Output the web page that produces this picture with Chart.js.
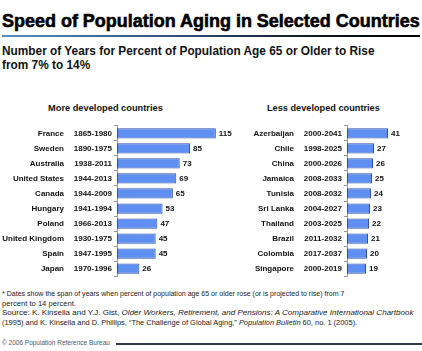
<!DOCTYPE html>
<html><head><meta charset="utf-8">
<script src="https://cdn.jsdelivr.net/npm/chart.js@4/dist/chart.umd.min.js"></script>
<style>
html,body{margin:0;padding:0;background:#fff;}
body{width:422px;height:351px;position:relative;overflow:hidden;font-family:"Liberation Sans",Arial,sans-serif;color:#000;}
.t{position:absolute;white-space:nowrap;line-height:1;}
#title{left:2px;top:12px;font-weight:bold;font-size:17px;-webkit-text-stroke:0.6px #000;}
#bar{position:absolute;left:2px;top:35px;width:418px;height:2px;background:linear-gradient(to right,#5a8cc4 0%,#2c4a72 45%,#101820 75%,#000 100%);}
#sub1{left:2px;top:46px;font-weight:bold;font-size:11px;color:#111;}
#sub2{left:2px;top:60px;font-weight:bold;font-size:11px;color:#111;}
#h1{left:48px;top:104px;font-weight:bold;font-size:8.5px;color:#111;}
#h2{left:267px;top:104px;font-weight:bold;font-size:8.5px;color:#111;}
.fn{left:2px;font-size:7.6px;color:#222;}
#cp{left:2px;top:340px;font-size:6px;color:#4a5870;}
#cpl{position:absolute;left:116px;top:343px;width:306px;height:1.5px;background:#2e3c52;}
canvas{position:absolute;}
#c1wrap{position:absolute;left:0;top:117px;width:240px;height:168px;}
#c2wrap{position:absolute;left:210px;top:117px;width:212px;height:168px;}
</style></head>
<body>
<div class="t" id="title" data-w="418">Speed of Population Aging in Selected Countries</div>
<div id="bar"></div>
<div class="t" id="sub1" data-w="373">Number of Years for Percent of Population Age 65 or Older to Rise</div>
<div class="t" id="sub2">from 7% to 14%</div>
<div class="t" id="h1" data-w="115">More developed countries</div>
<div class="t" id="h2" data-w="113">Less developed countries</div>
<div id="c1wrap"><canvas id="c1" width="240" height="168"></canvas></div>
<div id="c2wrap"><canvas id="c2" width="212" height="168"></canvas></div>
<div class="t fn" style="top:290px" data-w="343">* Dates show the span of years when percent of population age 65 or older rose (or is projected to rise) from 7</div>
<div class="t fn" style="top:299.5px">percent to 14 percent.</div>
<div class="t fn" style="top:309px" data-w="412">Source: K. Kinsella and Y.J. Gist, <i>Older Workers, Retirement, and Pensions: A Comparative International Chartbook</i></div>
<div class="t fn" style="top:318.5px" data-w="355">(1995) and K. Kinsella and D. Phillips, “The Challenge of Global Aging,” <i>Population Bulletin</i> 60, no. 1 (2005).</div>
<div class="t" id="cp" data-w="108">© 2006 Population Reference Bureau</div>
<div id="cpl"></div>
<script>
// fit text lines to measured widths of the reference
document.querySelectorAll('[data-w]').forEach(function(el){
  var target=parseFloat(el.getAttribute('data-w'));
  var fs=parseFloat(getComputedStyle(el).fontSize);
  var w=el.getBoundingClientRect().width;
  el.style.fontSize=(fs*target/w)+'px';
});
document.getElementById('sub2').style.fontSize=document.getElementById('sub1').style.fontSize;

// ---- data ----
const moreCountries=["France","Sweden","Australia","United States","Canada","Hungary","Poland","United Kingdom","Spain","Japan"];
const moreSpans=["1865-1980","1890-1975","1938-2011","1944-2013","1944-2009","1941-1994","1966-2013","1930-1975","1947-1995","1970-1996"];
const moreYears=[115,85,73,69,65,53,47,45,45,26];

const lessCountries=["Azerbaijan","Chile","China","Jamaica","Tunisia","Sri Lanka","Thailand","Brazil","Colombia","Singapore"];
const lessSpans=["2000-2041","1998-2025","2000-2026","2008-2033","2008-2032","2004-2027","2003-2025","2011-2032","2017-2037","2000-2019"];
const lessYears=[41,27,26,25,24,23,22,21,20,19];

const tickFont={family:"'Liberation Sans',Arial,sans-serif",size:8,weight:'bold'};

const valueLabels={
  id:'valueLabels',
  afterDatasetsDraw(chart){
    const ctx=chart.ctx;
    ctx.save();
    ctx.font="bold 8px 'Liberation Sans',Arial,sans-serif";
    ctx.fillStyle='#111';
    ctx.textBaseline='middle';
    ctx.textAlign='left';
    chart.getDatasetMeta(0).data.forEach((bar,i)=>{
      ctx.fillText(String(chart.data.datasets[0].data[i]),bar.x+3,bar.y+0.5);
    });
    ctx.restore();
  }
};

function makeChart(id,countries,spans,values,xmax,countryW,spanW,padRight){
  return new Chart(document.getElementById(id),{
    type:'bar',
    data:{labels:spans,datasets:[{data:values,backgroundColor:'#5f8ff0',borderColor:'#2f4fa8',borderWidth:1,borderSkipped:false,barPercentage:0.68,categoryPercentage:1}]},
    options:{
      indexAxis:'y',responsive:false,animation:false,
      layout:{padding:{top:5,bottom:5,left:0,right:padRight}},
      plugins:{legend:{display:false},tooltip:{enabled:false}},
      scales:{
        x:{display:false,min:0,max:xmax},
        y:{type:'category',position:'left',weight:0,
           grid:{display:true,drawOnChartArea:false,offset:true,tickLength:3,color:'#999'},
           border:{display:true,color:'#999',width:1},
           ticks:{font:tickFont,color:'#111',padding:2},
           afterFit(s){s.width=spanW;}},
        yc:{type:'category',position:'left',weight:1,labels:countries,
           grid:{display:false,drawTicks:false},border:{display:false},
           ticks:{font:tickFont,color:'#111',padding:4},
           afterFit(s){s.width=countryW;}}
      }
    },
    plugins:[valueLabels]
  });
}
makeChart('c1',moreCountries,moreSpans,moreYears,128,68,49,13);
makeChart('c2',lessCountries,lessSpans,lessYears,60,88,49,15);
</script>
</body></html>
